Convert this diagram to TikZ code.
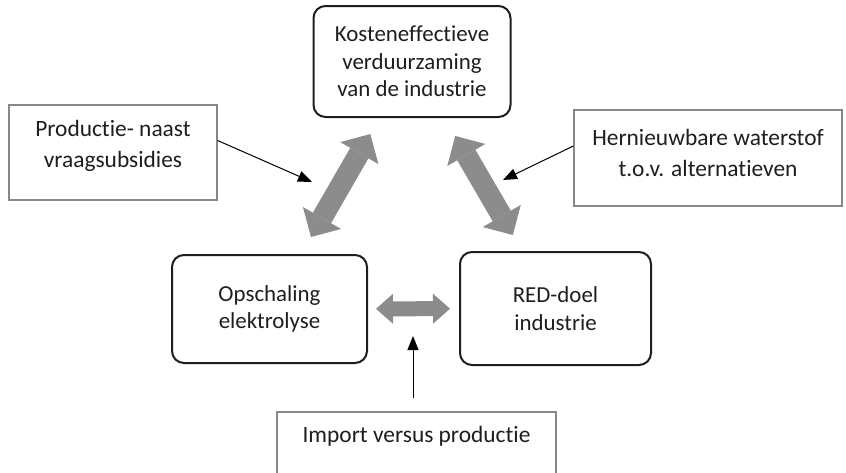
\documentclass[tikz,border=0pt]{standalone}
\usepackage{fontspec}
\setmainfont{Carlito}[Ligatures=NoCommon]
\usetikzlibrary{arrows.meta}
\definecolor{boxline}{RGB}{30,30,30}
\definecolor{factorline}{RGB}{135,135,135}
\definecolor{blockgray}{RGB}{140,140,140}
\definecolor{txt}{RGB}{30,30,30}

\begin{document}
\begin{tikzpicture}[x=1pt, y=-1pt,
  goal/.style={draw=boxline, line width=2pt, rounded corners=12pt, align=center, text=txt,
    inner sep=0pt, font=\fontsize{22.9}{27.5}\selectfont},
  factor/.style={draw=factorline, line width=1.3pt, inner sep=0pt},
  factortext/.style={align=center, text=txt, inner sep=0pt, font=\fontsize{23.4}{31}\selectfont},
  link/.style={draw=blockgray, line width=21pt,
    {Triangle[width=44pt,length=22pt,line width=0pt]}-{Triangle[width=44pt,length=22pt,line width=0pt]}},
  smalllink/.style={draw=blockgray, line width=15pt,
    {Triangle[width=30pt,length=17pt,line width=0pt]}-{Triangle[width=30pt,length=17pt,line width=0pt]}},
  push/.style={draw=black, line width=1pt, -{Triangle[length=14pt,width=11pt]}}]
  \useasboundingbox (0,0) rectangle (846,472);
  \clip (0,0) rectangle (846,472);

  % goals
  \node[goal, minimum width=197pt, minimum height=111pt] (koste) at (412,61.5)
    {Kosteneffectieve\\verduurzaming\\van de industrie};
  \node[goal, minimum width=195pt, minimum height=108pt] (opsch) at (269.5,309)
    {Opschaling\\elektrolyse};
  \node[goal, minimum width=191pt, minimum height=113pt] (red) at (555.5,308.5)
    {RED-doel\\industrie};

  % factors
  \node[factor, minimum width=208pt, minimum height=95pt] (subsbox) at (113,152.5) {};
  \node[factortext] (substxt) at (113,146) {Productie- naast\\vraagsubsidies};
  \node[factor, minimum width=268pt, minimum height=96pt] (waterbox) at (708,158) {};
  \node[factortext] (watertxt) at (708,153) {Hernieuwbare waterstof\\t.o.v. alternatieven};
  \node[factor, minimum width=279pt, minimum height=95pt] (importbox) at (416.5,459.5) {};
  \node[factortext] (importtxt) at (416.5,436) {Import versus productie};

  \coordinate (subsend) at (312,182);
  \coordinate (waterend) at (503,180);
  \coordinate (importend) at (413,336);

  \draw[link, shorten <=19.6pt, shorten >=18.5pt] (opsch) -- (koste);
  \draw[link, shorten <=20.8pt, shorten >=18.5pt] (koste) -- (red);
  \draw[smalllink, shorten <=8pt, shorten >=9pt] (opsch) -- (red);

  \draw[push] ([yshift=12pt]subsbox.east) -- (subsend);
  \draw[push] ([yshift=12pt]waterbox.west) -- (waterend);
  \draw[push, shorten <=13pt] (importbox.north -| importend) -- (importend);
\end{tikzpicture}
\end{document}
